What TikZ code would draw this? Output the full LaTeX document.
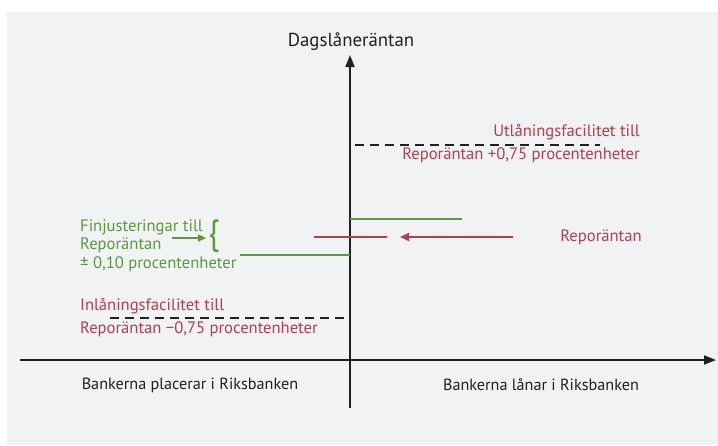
\documentclass[tikz,border=0pt]{standalone}
\usepackage{fontspec}
\setmainfont{PT Sans}
\usetikzlibrary{arrows.meta}
\definecolor{panel}{HTML}{F1F2F4}
\definecolor{rred}{HTML}{B0404C}
\definecolor{rgreen}{HTML}{5A9A3C}
\definecolor{axis}{HTML}{231F20}
\tikzset{
  lbl/.style={inner sep=0pt, font=\fontsize{16.6}{19}\selectfont},
  redtxt/.style={lbl, text=rred},
  greentxt/.style={lbl, text=rgreen},
  axisline/.style={draw=axis, line width=1.8pt},
  dashline/.style={draw=axis, line width=1.2pt, dash pattern=on 9pt off 6pt},
  greenline/.style={draw=rgreen, line width=2.2pt},
  redline/.style={draw=rred, line width=1.8pt}
}
\begin{document}
\begin{tikzpicture}[x=1pt,y=-1pt]
\useasboundingbox (0,0) rectangle (718,445);
\fill[white] (0,0) rectangle (718,445);
\fill[panel] (7,12) rectangle (718,445);
% axes
\coordinate (vb) at (350,408);
\coordinate (vt) at (350,55);
\coordinate (hl) at (20,360);
\coordinate (hr) at (716,360);
\draw[axisline, -{Triangle[length=12pt,width=9pt]}] (vb) -- (vt);
\draw[axisline, -{Triangle[length=12pt,width=9pt]}] (hl) -- (hr);
\node[lbl, text=axis, font=\fontsize{18.8}{22}\selectfont] (title) at (351,42) {Dagslåneräntan};
\node[lbl, text=axis, font=\fontsize{16.2}{19}\selectfont] (left) at (190,385) {Bankerna placerar i Riksbanken};
\node[lbl, text=axis, font=\fontsize{16.2}{19}\selectfont] (right) at (541,385) {Bankerna lånar i Riksbanken};
% upper facility
\coordinate (ud1) at (355,145);
\coordinate (ud2) at (600,145);
\draw[dashline] (ud1) -- (ud2);
\node[redtxt, anchor=east] (ut1) at (640,132) {Utlåningsfacilitet till};
\node[redtxt, anchor=east] (ut2) at (640,155) {Reporäntan +0,75 procentenheter};
% lower facility
\coordinate (ld1) at (110,318);
\coordinate (ld2) at (345,318);
\draw[dashline] (ld1) -- (ld2);
\node[redtxt, anchor=west] (lt1) at (80,306) {Inlåningsfacilitet till};
\node[redtxt, anchor=west] (lt2) at (80,329) {Reporäntan −0,75 procentenheter};
% green lines
\coordinate (g1a) at (350,219);
\coordinate (g1b) at (462,219);
\draw[greenline] (g1a) -- (g1b);
\coordinate (g2a) at (240,255);
\coordinate (g2b) at (350,255);
\draw[greenline] (g2a) -- (g2b);
% repo
\coordinate (r1) at (314,237);
\coordinate (r2) at (387,237);
\draw[redline] (r1) -- (r2);
\node[redtxt, anchor=center] (repo) at (601,237) {Reporäntan};
\coordinate (ra1) at (513,237);
\coordinate (ra2) at (400,237);
\draw[redline, -{Triangle[length=9pt,width=8pt]}] (ra1) -- (ra2);
% green text
\node[greentxt, anchor=west] (f1) at (80,227) {Finjusteringar till};
\node[greentxt, anchor=west] (f2) at (80,245) {Reporäntan};
\node[greentxt, anchor=west] (f3) at (80,264) {± 0,10 procentenheter};
\node[inner sep=0pt, text=rgreen, font=\fontsize{32}{32}\selectfont, yscale=1.1] (brace) at (214,236) {\{};
\coordinate (ga1) at (172,238);
\coordinate (ga2) at (206,238);
\draw[draw=rgreen, line width=1.8pt, -{Triangle[length=8pt,width=7pt]}] (ga1) -- (ga2);
\end{tikzpicture}
\end{document}
